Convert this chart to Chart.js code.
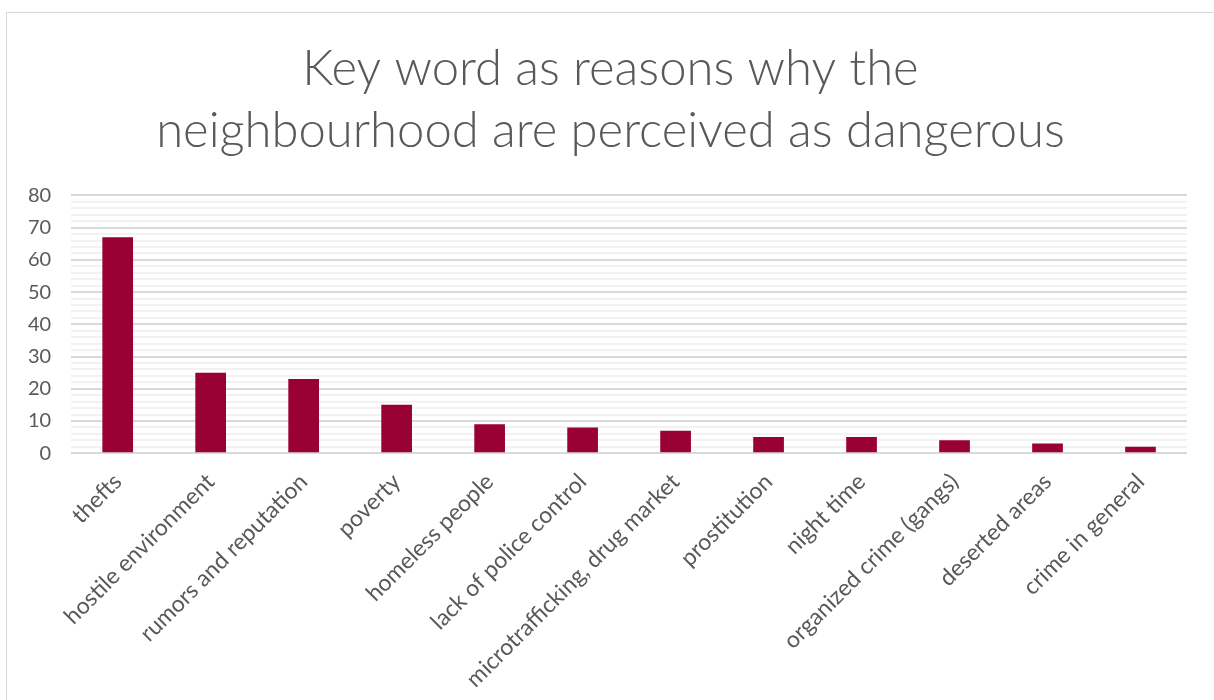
<!DOCTYPE html>
<html>
<head>
<meta charset="utf-8">
<script src="https://cdn.jsdelivr.net/npm/chart.js@4/dist/chart.umd.min.js"></script>
<style>
  html, body { margin: 0; padding: 0; background: #fff; }
  #frame { position: absolute; left: 6px; top: 12px; width: 1220px; height: 700px;
           border: 1.5px solid #d9d9d9; box-sizing: border-box; }
  #wrap { position: absolute; left: 0; top: 0; width: 1214px; height: 700px; }
</style>
</head>
<body>
<div id="frame"></div>
<div id="wrap"><canvas id="c" width="1214" height="700"></canvas></div>
<script>
const categories = ["thefts", "hostile environment", "rumors and reputation", "poverty",
  "homeless people", "lack of police control", "microtrafficking, drug market",
  "prostitution", "night time", "organized crime (gangs)", "deserted areas", "crime in general"];
const values = [67, 25, 23, 15, 9, 8, 7, 5, 5, 4, 3, 2];
const titleLines = ["Key word as reasons why the", "neighbourhood are perceived as dangerous"];
const yMin = 0, yMax = 80, yMajor = 10, yMinor = 2;

const shiftTitle = {
  id: 'shiftTitle',
  afterLayout(chart) {
    const t = chart.titleBlock;
    if (t) { t.left += 13; t.right += 13; }
  }
};

new Chart(document.getElementById('c'), {
  type: 'bar',
  data: {
    labels: categories,
    datasets: [{
      data: values,
      backgroundColor: '#990033',
      borderWidth: 0,
      barPercentage: 0.33,
      categoryPercentage: 1.0
    }]
  },
  plugins: [shiftTitle],
  options: {
    responsive: false,
    animation: false,
    layout: { padding: { left: 8, right: 27, top: 38, bottom: 0 } },
    plugins: {
      legend: { display: false },
      tooltip: { enabled: false },
      title: {
        display: true,
        text: titleLines,
        color: '#595959',
        font: { family: 'Lato', size: 49, weight: '300', lineHeight: 1.27 },
        padding: { top: 0, bottom: 33 }
      }
    },
    scales: {
      x: {
        grid: { display: false },
        border: { display: false },
        ticks: {
          color: '#595959',
          font: { family: 'Lato', size: 23 },
          minRotation: 45, maxRotation: 45,
          autoSkip: false,
          padding: 7
        }
      },
      y: {
        min: yMin, max: yMax,
        border: { display: false },
        grid: {
          drawTicks: false,
          lineWidth: 2,
          color: (ctx) => (ctx.tick && ctx.tick.value % yMajor === 0) ? '#d9d9d9' : '#f2f2f2'
        },
        ticks: {
          stepSize: yMinor,
          autoSkip: false,
          maxTicksLimit: 100,
          color: '#595959',
          font: { family: 'Lato', size: 20 },
          padding: 20,
          callback: (v) => (v % yMajor === 0 ? v : '')
        }
      }
    }
  }
});
</script>
</body>
</html>
